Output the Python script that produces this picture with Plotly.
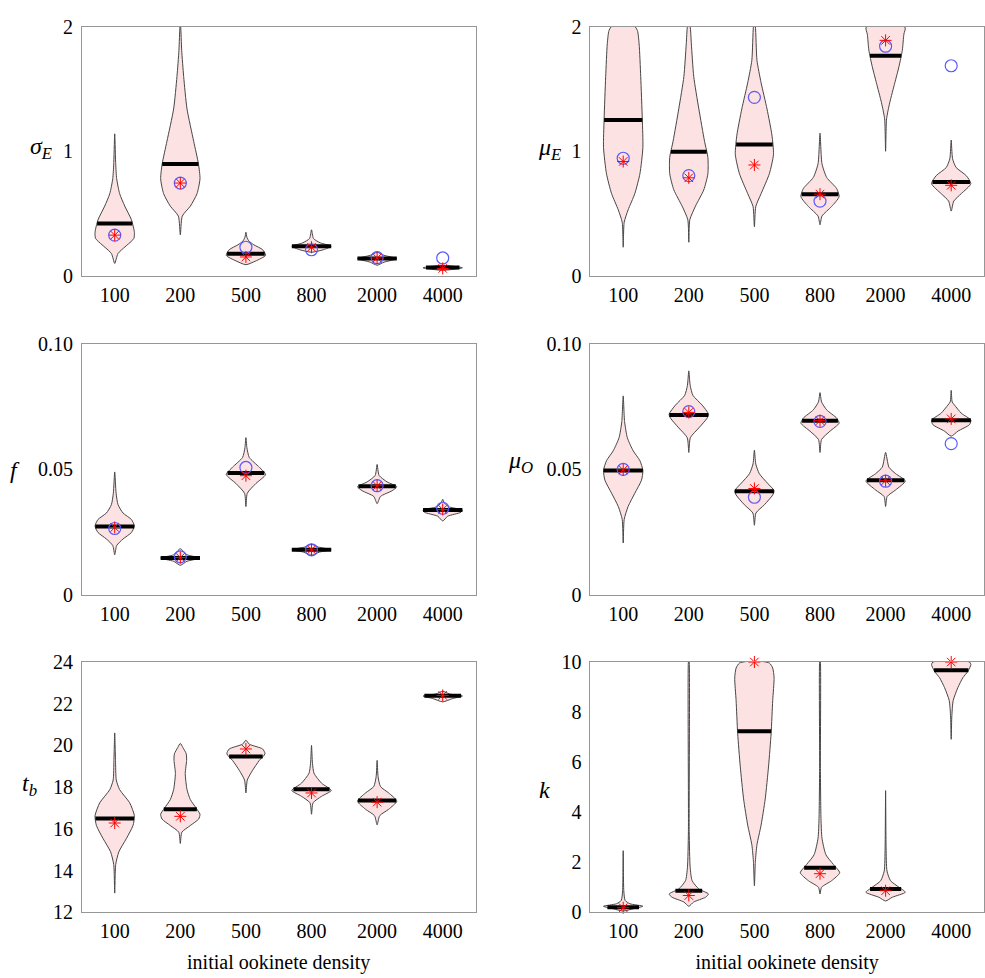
import numpy as np
import plotly.graph_objects as go

DENSITIES = ["100", "200", "500", "800", "2000", "4000"]

# ---- sigma_E ----
SIGE_LEVELS = [
    [0.10, 0.18, 0.30, 0.35, 0.45, 0.56, 0.66, 0.78, 0.90, 1.14],
    [0.33, 0.48, 0.56, 0.66, 0.78, 0.90, 1.08, 1.34, 1.60, 1.81, 2.00, 2.03],
    [0.09, 0.12, 0.165, 0.21, 0.25, 0.28, 0.31, 0.35],
    [0.19, 0.21, 0.238, 0.265, 0.30, 0.37],
    [0.086, 0.11, 0.139, 0.165, 0.19],
    [0.045, 0.065, 0.085],
]
SIGE_DENS = [
    [0, 0.17, 0.97, 1.0, 0.85, 0.51, 0.25, 0.10, 0.05, 0],
    [0, 0.10, 0.51, 0.85, 1.0, 0.92, 0.68, 0.34, 0.17, 0.07, 0.02, 0],
    [0, 0.5, 1.0, 0.85, 0.4, 0.15, 0.05, 0],
    [0, 0.6, 1.0, 0.45, 0.1, 0],
    [0, 0.35, 1.0, 0.35, 0],
    [0, 1.0, 0],
]
SIGE_MEDIAN = [0.42, 0.897, 0.178, 0.238, 0.139, 0.068]
SIGE_STAR = [0.327, 0.745, 0.152, 0.23, 0.144, 0.06]
SIGE_CIRCLE = [0.327, 0.745, 0.23, 0.21, 0.146, 0.144]

# ---- mu_E ----
MUE_LEVELS = [
    [0.23, 0.43, 0.53, 0.66, 0.82, 1.03, 1.26, 1.60, 1.86, 1.97, 2.02, 2.05],
    [0.27, 0.45, 0.56, 0.69, 0.82, 0.95, 1.08, 1.34, 1.60, 1.86, 2.00, 2.03],
    [0.395, 0.557, 0.66, 0.82, 0.975, 1.13, 1.34, 1.55, 1.73, 2.00, 2.03],
    [0.41, 0.48, 0.557, 0.635, 0.70, 0.79, 0.90, 1.145],
    [1.00, 1.26, 1.39, 1.55, 1.68, 1.81, 1.94, 1.99, 2.03, 2.06],
    [0.52, 0.60, 0.66, 0.74, 0.805, 0.87, 0.94, 1.09],
]
MUE_DENS = [
    [0, 0.05, 0.25, 0.59, 0.85, 1.0, 0.97, 0.89, 0.81, 0.72, 0.5, 0],
    [0, 0.05, 0.34, 0.76, 0.97, 0.97, 0.8, 0.51, 0.25, 0.13, 0.07, 0],
    [0, 0.07, 0.34, 0.76, 0.97, 0.89, 0.64, 0.34, 0.13, 0.05, 0],
    [0, 0.1, 0.59, 0.97, 0.85, 0.34, 0.1, 0],
    [0, 0.05, 0.21, 0.47, 0.68, 0.85, 0.93, 1.0, 0.7, 0],
    [0, 0.13, 0.51, 1.0, 0.76, 0.25, 0.07, 0],
]
MUE_MEDIAN = [1.25, 0.996, 1.054, 0.656, 1.767, 0.753]
MUE_STAR = [0.918, 0.787, 0.89, 0.656, 1.89, 0.727]
MUE_CIRCLE = [0.944, 0.805, 1.433, 0.60, 1.843, 1.686]

# ---- f ----
F_LEVELS = [
    [0.0159, 0.0196, 0.0222, 0.0248, 0.0274, 0.030, 0.0326, 0.0359, 0.0405, 0.049],
    [0.0117, 0.0133, 0.0146, 0.0159, 0.0183],
    [0.0352, 0.0405, 0.0444, 0.048, 0.0509, 0.0548, 0.0587, 0.0627],
    [0.0157, 0.017, 0.0179, 0.019, 0.0201],
    [0.0363, 0.0392, 0.0415, 0.0431, 0.045, 0.0476, 0.052],
    [0.0294, 0.0313, 0.0329, 0.0338, 0.035, 0.0366, 0.0381],
]
F_DENS = [
    [0, 0.1, 0.42, 0.85, 1.0, 0.85, 0.42, 0.17, 0.07, 0],
    [0, 0.34, 1.0, 0.34, 0],
    [0, 0.07, 0.51, 1.0, 0.68, 0.17, 0.05, 0],
    [0, 0.42, 1.0, 0.34, 0],
    [0, 0.17, 0.76, 1.0, 0.51, 0.1, 0],
    [0, 0.25, 0.93, 1.0, 0.34, 0.08, 0],
]
F_MEDIAN = [0.0272, 0.0146, 0.0486, 0.0179, 0.0433, 0.0338]
F_STAR = [0.0268, 0.0148, 0.0475, 0.0179, 0.0435, 0.034]
F_CIRCLE = [0.0264, 0.0151, 0.0508, 0.0179, 0.0435, 0.0345]

# ---- mu_O ----
MUO_LEVELS = [
    [0.0206, 0.030, 0.0352, 0.0405, 0.0457, 0.0496, 0.0535, 0.0574, 0.0627, 0.0692, 0.0794],
    [0.0568, 0.0627, 0.0666, 0.0705, 0.0721, 0.0757, 0.0796, 0.0836, 0.0894],
    [0.0277, 0.0326, 0.0359, 0.0398, 0.0415, 0.0444, 0.0483, 0.0522, 0.0577],
    [0.0568, 0.062, 0.0653, 0.0685, 0.0705, 0.0738, 0.077, 0.0807],
    [0.0352, 0.0392, 0.0418, 0.0454, 0.0483, 0.0509, 0.0568],
    [0.0633, 0.0653, 0.0679, 0.0697, 0.0725, 0.0757, 0.077, 0.0816],
]
MUO_DENS = [
    [0, 0.05, 0.25, 0.59, 0.93, 1.0, 0.85, 0.51, 0.21, 0.07, 0],
    [0, 0.08, 0.51, 0.93, 1.0, 0.68, 0.21, 0.07, 0],
    [0, 0.08, 0.51, 0.93, 1.0, 0.68, 0.25, 0.07, 0],
    [0, 0.08, 0.51, 0.97, 0.85, 0.34, 0.08, 0],
    [0, 0.08, 0.51, 1.0, 0.51, 0.17, 0],
    [0, 0.34, 0.93, 1.0, 0.51, 0.17, 0.05, 0],
]
MUO_MEDIAN = [0.0496, 0.0718, 0.0413, 0.0695, 0.0457, 0.0697]
MUO_STAR = [0.0498, 0.0728, 0.0424, 0.0695, 0.0455, 0.0702]
MUO_CIRCLE = [0.050, 0.0731, 0.0389, 0.0692, 0.0453, 0.0603]

# ---- t_b ----
TB_LEVELS = [
    [12.92, 14.28, 14.9, 15.53, 16.16, 16.63, 17.25, 17.88, 18.34, 19.28, 20.6],
    [15.3, 15.84, 16.16, 16.47, 16.7, 17.0, 17.4, 17.88, 18.66, 19.28, 19.6, 19.9, 20.1],
    [17.72, 18.34, 18.81, 19.28, 19.6, 19.83, 20.06, 20.25],
    [16.7, 17.25, 17.56, 17.84, 18.19, 18.66, 19.13, 20.0],
    [16.19, 16.63, 16.94, 17.33, 17.72, 18.03, 18.5, 19.28],
    [22.09, 22.25, 22.37, 22.47, 22.6],
]
TB_DENS = [
    [0, 0.05, 0.21, 0.59, 0.93, 1.0, 0.76, 0.25, 0.08, 0.04, 0],
    [0, 0.08, 0.51, 0.93, 1.0, 0.8, 0.51, 0.34, 0.25, 0.32, 0.3, 0.13, 0],
    [0, 0.07, 0.34, 0.68, 0.97, 0.85, 0.17, 0],
    [0, 0.08, 0.51, 1.0, 0.51, 0.13, 0.05, 0],
    [0, 0.13, 0.59, 1.0, 0.59, 0.17, 0.05, 0],
    [0, 0.51, 1.0, 0.34, 0],
]
TB_MEDIAN = [16.5, 16.94, 19.47, 17.9, 17.36, 22.38]
TB_STAR = [16.28, 16.6, 19.83, 17.72, 17.28, 22.4]
TB_CIRCLE = [None] * 6

# ---- k ----
K_LEVELS = [
    [0.05, 0.14, 0.24, 0.34, 0.47, 0.86, 2.46],
    [0.24, 0.41, 0.6, 0.73, 0.93, 1.26, 1.78, 3.22, 10.0, 10.05],
    [1.06, 2.04, 2.7, 3.48, 4.53, 5.84, 7.15, 8.46, 9.37, 9.76, 9.96, 10.05],
    [0.73, 1.0, 1.26, 1.58, 1.91, 2.3, 2.96, 3.74, 5.84, 10.0, 10.05],
    [0.45, 0.6, 0.8, 1.0, 1.26, 1.65, 2.57, 4.86],
    [6.91, 7.8, 8.46, 8.98, 9.37, 9.63, 9.9, 10.0, 10.05],
]
K_DENS = [
    [0, 0.51, 1.0, 0.34, 0.1, 0.03, 0],
    [0, 0.25, 0.85, 1.0, 0.51, 0.17, 0.07, 0.02, 0.02, 0],
    [0, 0.05, 0.13, 0.34, 0.55, 0.72, 0.85, 0.93, 1.0, 0.93, 0.76, 0],
    [0, 0.08, 0.59, 1.0, 0.68, 0.3, 0.1, 0.05, 0.02, 0.02, 0],
    [0, 0.34, 1.0, 0.68, 0.25, 0.07, 0.025, 0],
    [0, 0.03, 0.1, 0.34, 0.59, 0.85, 1.0, 0.93, 0],
]
K_MEDIAN = [0.2, 0.86, 7.23, 1.78, 0.93, 9.67]
K_STAR = [0.18, 0.67, 10.0, 1.54, 0.86, 10.0]
K_CIRCLE = [None] * 6

# ---------------- styling / layout ----------------
W, H = 985, 978
HALF = 0.30  # max half-width of a violin, in category units
FILL = "rgb(252,226,226)"
EDGE = "rgb(70,70,70)"
FONT = "Liberation Serif"

col_px = [(82, 476), (591, 985)]
row_px = [(16, 271), (341, 597), (666, 922)]

panels = [
    dict(levels=SIGE_LEVELS, dens=SIGE_DENS, med=SIGE_MEDIAN, star=SIGE_STAR, circ=SIGE_CIRCLE,
         rng=[0, 2], tv=[0, 1, 2], tt=["0", "1", "2"],
         label="<i>σ</i><sub><i>E</i></sub>", lab_xy=(41, 140)),
    dict(levels=MUE_LEVELS, dens=MUE_DENS, med=MUE_MEDIAN, star=MUE_STAR, circ=MUE_CIRCLE,
         rng=[0, 2], tv=[0, 1, 2], tt=["0", "1", "2"],
         label="<i>μ</i><sub><i>E</i></sub>", lab_xy=(550, 141)),
    dict(levels=F_LEVELS, dens=F_DENS, med=F_MEDIAN, star=F_STAR, circ=F_CIRCLE,
         rng=[0, 0.1], tv=[0, 0.05, 0.1], tt=["0", "0.05", "0.10"],
         label="<i>f</i>", lab_xy=(15, 470)),
    dict(levels=MUO_LEVELS, dens=MUO_DENS, med=MUO_MEDIAN, star=MUO_STAR, circ=MUO_CIRCLE,
         rng=[0, 0.1], tv=[0, 0.05, 0.1], tt=["0", "0.05", "0.10"],
         label="<i>μ</i><sub><i>O</i></sub>", lab_xy=(521, 461)),
    dict(levels=TB_LEVELS, dens=TB_DENS, med=TB_MEDIAN, star=TB_STAR, circ=TB_CIRCLE,
         rng=[12, 24], tv=[12, 14, 16, 18, 20, 22, 24], tt=None,
         label="<i>t</i><sub><i>b</i></sub>", lab_xy=(30, 792)),
    dict(levels=K_LEVELS, dens=K_DENS, med=K_MEDIAN, star=K_STAR, circ=K_CIRCLE,
         rng=[0, 10], tv=[0, 2, 4, 6, 8, 10], tt=None,
         label="<i>k</i>", lab_xy=(545, 797)),
]

fig = go.Figure()
annotations = []
TICKFONT = dict(family=FONT, size=20, color="black")

for i, p in enumerate(panels):
    r, c = divmod(i, 2)
    n = i + 1
    xa = "x" if n == 1 else f"x{n}"
    ya = "y" if n == 1 else f"y{n}"
    xl, xr = col_px[c]
    yt, yb = row_px[r]
    xaxis = dict(
        domain=[xl / W, xr / W], range=[-0.5, 5.5],
        tickmode="array", tickvals=list(range(len(DENSITIES))), ticktext=DENSITIES,
        showgrid=False, zeroline=False, showline=True, mirror=True,
        linecolor="rgb(150,150,150)", linewidth=1, ticks="",
        tickfont=TICKFONT, ticklabelstandoff=1, anchor=ya, fixedrange=True,
    )
    if r == 2:
        xaxis["title"] = dict(text="initial ookinete density",
                              font=dict(family=FONT, size=20, color="black"), standoff=13)
    yaxis = dict(
        domain=[1 - yb / H, 1 - yt / H], range=p["rng"],
        tickmode="array", tickvals=p["tv"],
        ticktext=p["tt"] if p["tt"] else [str(v) for v in p["tv"]],
        showgrid=False, zeroline=False, showline=True, mirror=True,
        linecolor="rgb(150,150,150)", linewidth=1, ticks="",
        tickfont=TICKFONT, ticklabelstandoff=4, anchor=xa, fixedrange=True,
    )
    fig.update_layout(**{("xaxis" if n == 1 else f"xaxis{n}"): xaxis,
                         ("yaxis" if n == 1 else f"yaxis{n}"): yaxis})

    for j in range(len(DENSITIES)):
        lv = np.array(p["levels"][j], dtype=float)
        dn = np.array(p["dens"][j], dtype=float) * HALF
        xs = np.concatenate([j + dn, (j - dn[::-1])[1:]])
        ys = np.concatenate([lv, lv[::-1][1:]])
        fig.add_trace(go.Scatter(
            x=xs, y=ys, xaxis=xa, yaxis=ya, mode="lines",
            line=dict(color=EDGE, width=1, shape="spline", smoothing=0.6),
            fill="toself", fillcolor=FILL, showlegend=False, hoverinfo="skip"))
        # median bar spanning violin width at the median level
        hw = np.interp(p["med"][j], lv, dn)
        fig.add_trace(go.Scatter(
            x=[j - hw, j + hw], y=[p["med"][j]] * 2, xaxis=xa, yaxis=ya,
            mode="lines", line=dict(color="black", width=4),
            showlegend=False, hoverinfo="skip"))

    cx = [j for j in range(len(DENSITIES)) if p["circ"][j] is not None]
    cy = [p["circ"][j] for j in cx]
    if cx:
        fig.add_trace(go.Scatter(
            x=cx, y=cy, xaxis=xa, yaxis=ya, mode="markers", cliponaxis=False,
            marker=dict(symbol="circle-open", size=12, color="rgb(90,90,255)",
                        line=dict(width=1.2, color="rgb(90,90,255)")),
            showlegend=False))
    fig.add_trace(go.Scatter(
        x=list(range(len(DENSITIES))), y=p["star"], xaxis=xa, yaxis=ya,
        mode="markers", cliponaxis=False,
        marker=dict(symbol="asterisk-open", size=10, color="red",
                    line=dict(width=1, color="red")),
        showlegend=False))

    lx, ly = p["lab_xy"]
    annotations.append(dict(
        text=p["label"], x=lx / W, y=1 - ly / H, xref="paper", yref="paper",
        xanchor="center", yanchor="middle", showarrow=False,
        font=dict(family=FONT, size=24, color="black")))

fig.update_layout(
    width=W, height=H, margin=dict(l=0, r=0, t=0, b=0),
    paper_bgcolor="white", plot_bgcolor="white",
    font=dict(family=FONT, size=20, color="black"),
    annotations=annotations, showlegend=False,
)

fig.write_html("out.html")
